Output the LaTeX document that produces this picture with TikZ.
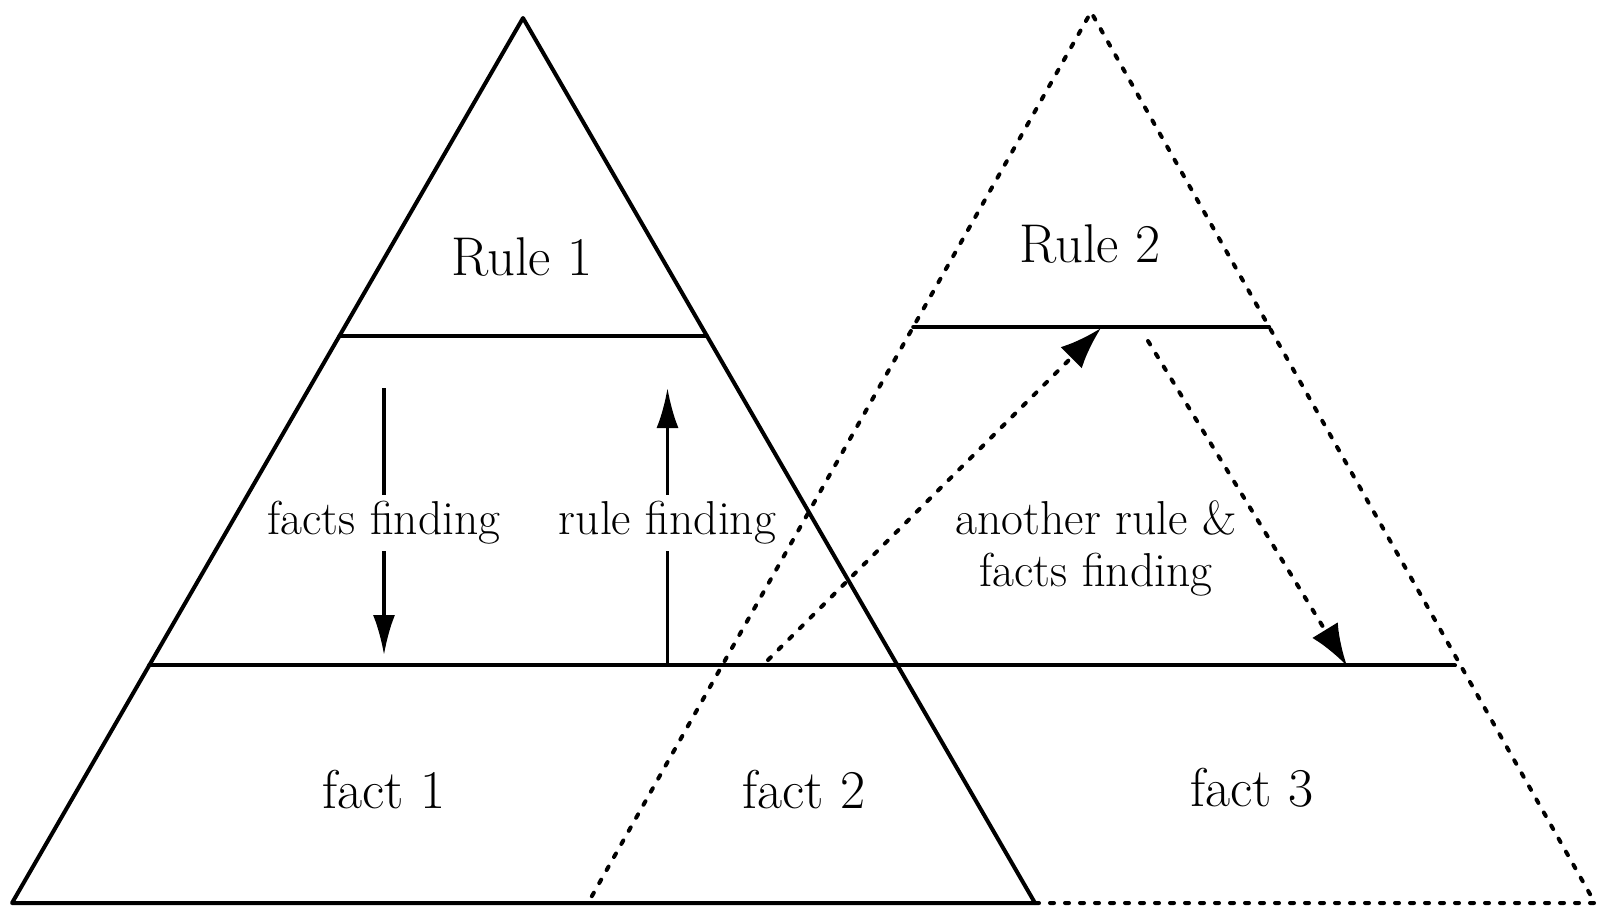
\documentclass[tikz,border=0pt]{standalone}
\usetikzlibrary{arrows.meta,calc}
\tikzset{
  solidline/.style={line width=2pt, line join=round, line cap=round},
  dashline/.style={line width=2pt, line cap=round, dash pattern=on 2pt off 5.5pt},
  bigtext/.style={font=\fontsize{27.3pt}{32pt}\selectfont, inner sep=2pt},
  smalltext/.style={font=\fontsize{23.8pt}{25.5pt}\selectfont, align=center, fill=white, inner sep=3pt},
  arrowline/.style={line width=1.7pt, -{Latex[length=20pt,width=11pt]}},
  dasharrow/.style={dashline, -{Latex[length=21pt,width=15pt]}}
}
\begin{document}
\begin{tikzpicture}[x=0.5pt,y=-0.5pt]
\useasboundingbox (0,0) rectangle (1598,907);
% left triangle
\coordinate (A1) at (523,18);
\coordinate (L1) at (12,903);
\coordinate (R1) at (1035,903);
\coordinate (ruleL1) at ($(A1)!0.3593!(L1)$);
\coordinate (ruleR1) at ($(A1)!0.3593!(R1)$);
\coordinate (factL1) at ($(A1)!0.7316!(L1)$);
% right triangle
\coordinate (A2) at (1091,12);
\coordinate (L2) at (588,903);
\coordinate (R2) at (1595,903);
\coordinate (ruleL2) at ($(A2)!0.3535!(L2)$);
\coordinate (ruleR2) at ($(A2)!0.3535!(R2)$);
\coordinate (factX) at (1455,0);

% arrows inside left triangle
\coordinate (ffS) at (384,388);
\coordinate (ffE) at (384,655);
\coordinate (rfS) at (667.5,665.5);
\coordinate (rfE) at (667.5,388);
\draw[arrowline] (ffS) -- (ffE);
\draw[arrowline] (rfS) -- (rfE);

% dashed arrows
\coordinate (d1S) at (768,660);
\coordinate (d1E) at (1101,328);
\coordinate (d2S) at (1148,341);
\coordinate (d2E) at (1347,666);
\draw[dasharrow] (d1S) -- (d1E);
\draw[dasharrow] (d2S) -- (d2E);

% labels with white background
\node[smalltext] (facts) at (384,523) {facts finding};
\node[smalltext] (rulef) at (667.5,523) {rule finding};

% dashed triangle
\draw[dashline] (R1) -- (R2) -- (A2) -- (L2);
% left solid triangle
\draw[solidline] (A1) -- (L1) -- (R1) -- cycle;
\draw[solidline] (ruleL1) -- (ruleR1);
\draw[solidline] (factL1) -- (factL1 -| factX);
\draw[solidline] (ruleL2) -- (ruleR2);

% texts
\node[bigtext] (rule1) at (522,257) {Rule 1};
\node[bigtext] (rule2) at (1090,244) {Rule 2};
\node[bigtext] (fact1) at (384,790) {fact 1};
\node[bigtext] (fact2) at (804,790) {fact 2};
\node[bigtext] (fact3) at (1252,788) {fact 3};
\node[smalltext, fill=none, font=\fontsize{23.8pt}{26pt}\selectfont] (another) at (1096,548) {another rule \&\\facts finding};
\end{tikzpicture}
\end{document}
